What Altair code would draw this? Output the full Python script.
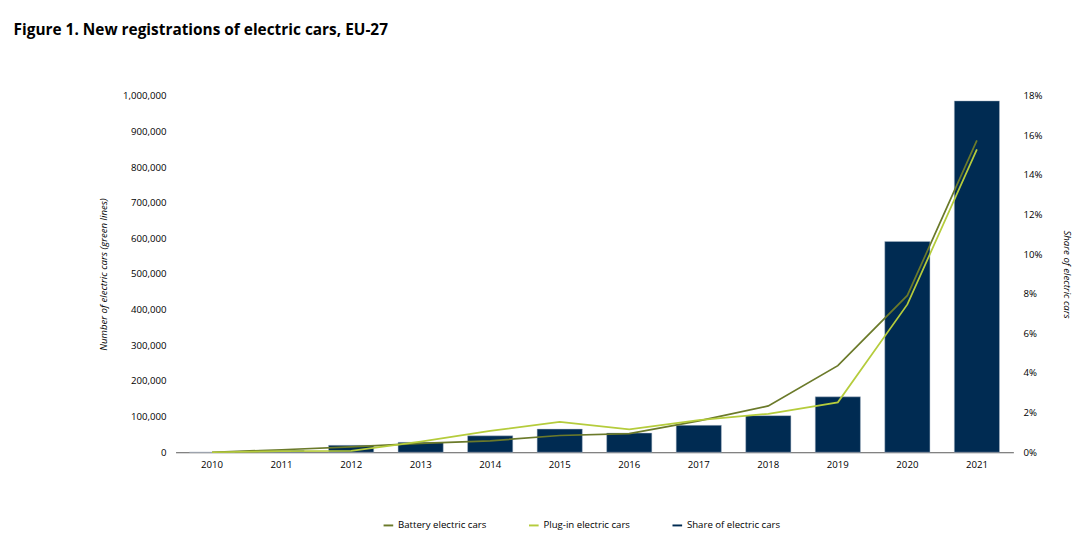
import altair as alt
import pandas as pd

years = [str(y) for y in range(2010, 2022)]
share = [0.0, 0.1, 0.35, 0.5, 0.83, 1.17, 0.97, 1.36, 1.85, 2.8, 10.65, 17.75]
bev = [0, 7000, 15000, 25000, 32000, 47000, 52000, 88000, 130000, 243000, 440000, 875000]
phev = [0, 3000, 4000, 30000, 60000, 85000, 64000, 90000, 108000, 140000, 415000, 850000]

bars_df = pd.DataFrame({"year": years, "share": [s / 100 for s in share], "series": "Share of electric cars"})
lines_df = pd.concat([
    pd.DataFrame({"year": years, "value": bev, "series": "Battery electric cars"}),
    pd.DataFrame({"year": years, "value": phev, "series": "Plug-in electric cars"}),
])

names = ["Battery electric cars", "Plug-in electric cars", "Share of electric cars"]
colors = ["#6b7a2a", "#b5cc3c", "#002b52"]
color = alt.Color("series:N", scale=alt.Scale(domain=names, range=colors),
                  legend=alt.Legend(title=None, orient="none", legendX=215, legendY=440, direction="horizontal",
                                    symbolType="stroke", symbolStrokeWidth=2, labelFontSize=10,
                                    columnPadding=40))

xenc = alt.X("year:N", title=None, axis=alt.Axis(labelAngle=0, ticks=False, domainColor="#555",
                                                  labelFontSize=10, labelPadding=8),
             scale=alt.Scale(paddingInner=0.35, paddingOuter=0.2))

bars = alt.Chart(bars_df).mark_bar(color="#002b52", stroke="#b0bccb", strokeWidth=0.5).encode(
    x=xenc,
    y=alt.Y("share:Q", scale=alt.Scale(domain=[0, 0.18]),
            axis=alt.Axis(orient="right", format=".0%", values=[i / 100 for i in range(0, 19, 2)],
                          grid=False, domain=False, ticks=False, labelFontSize=10, labelPadding=10,
                          title="Share of electric cars", titleFontStyle="italic", titleFontWeight="normal",
                          titleFontSize=10, titlePadding=20)),
    color=color,
)

lines = alt.Chart(lines_df).mark_line(strokeWidth=1.8).encode(
    x=xenc,
    y=alt.Y("value:Q", scale=alt.Scale(domain=[0, 1000000]),
            axis=alt.Axis(format=",.0f", values=list(range(0, 1000001, 100000)), grid=False, domain=False,
                          ticks=False, labelFontSize=10, labelPadding=10,
                          title="Number of electric cars  (green lines)", titleFontStyle="italic",
                          titleFontWeight="normal", titleFontSize=10, titlePadding=15)),
    color=color,
)

chart = alt.layer(bars, lines).resolve_scale(y="independent").properties(
    width=870, height=370,
    title=alt.TitleParams("Figure 1. New registrations of electric cars, EU-27", anchor="start",
                          fontSize=16, fontWeight="bold", offset=55, dx=-88),
).configure(font="Open Sans").configure_view(stroke=None)

chart.save("out.html", embed_options={"renderer": "svg", "actions": False})
